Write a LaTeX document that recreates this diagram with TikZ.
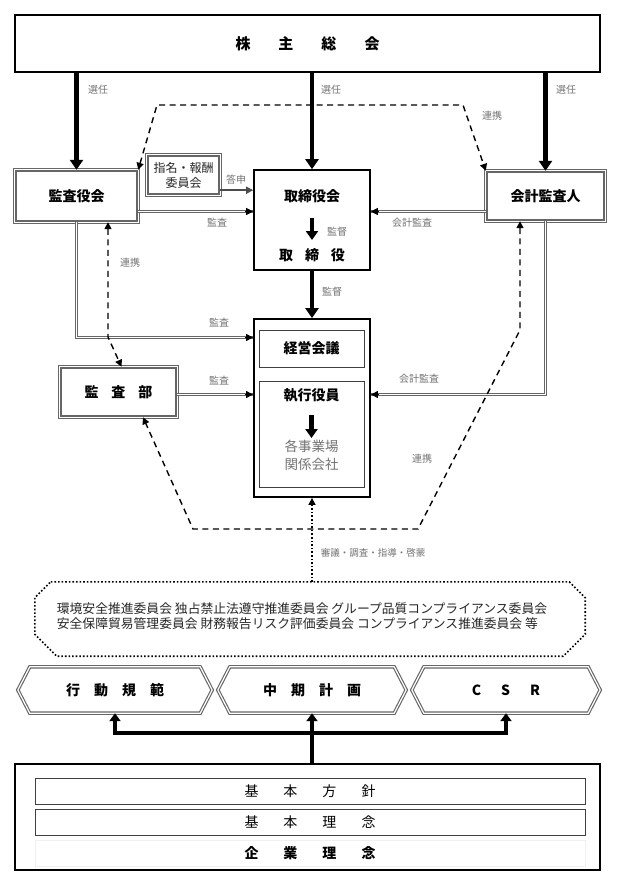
\documentclass[tikz,border=0pt]{standalone}
\usepackage{fontspec}
\setmainfont{Noto Sans CJK JP}
\usetikzlibrary{arrows.meta,calc}
\newcommand{\jfs}[1]{\fontsize{#1}{#1}\selectfont}
\begin{document}
\begin{tikzpicture}[x=1pt,y=-1pt,
  thickarr/.style={line width=4.8pt,-{Triangle[width=13pt,length=10pt]}},
  midarr/.style={line width=4pt,-{Triangle[width=11pt,length=8pt]}},
  innerarr/.style={line width=4.5pt,-{Triangle[width=12pt,length=9pt]}},
  dblline/.style={draw=black!60,double=white,line width=1.15pt,double distance=1.2pt},
  tipa/.style={draw=black,line width=1pt,-{Triangle[width=7pt,length=7pt]}},
  tosarr/.style={draw=black!70,line width=1.6pt,-{Triangle[width=7pt,length=7pt]}},
  txtbox/.style={fill=white,inner sep=0pt,align=center},
  boldtxt/.style={font=\jfs{14}\bfseries,inner sep=0pt},
  lab/.style={font=\jfs{10},text=black!55,inner sep=0pt},
  dashl/.style={line width=1.4pt,dash pattern=on 6pt off 4.5pt},
  dtips/.style={{Triangle[width=7pt,length=7pt]}-{Triangle[width=7pt,length=7pt]}},
  dotl/.style={line width=1.6pt,dash pattern=on 1.6pt off 2pt},
  plainbox/.style={draw=black!75,line width=0.8pt,inner sep=0pt}
]
\useasboundingbox (0,0) rectangle (632,886);
\fill[white] (0,0) rectangle (632,886);

% ---------- boxes ----------
\node[draw,line width=1.8pt,minimum width=585pt,minimum height=57pt,font=\jfs{15}\bfseries] (gm) at (307.5,43.5) {株\hspace{28pt}主\hspace{28pt}総\hspace{28pt}会};

\node[txtbox,minimum width=123pt,minimum height=52pt,boldtxt] (kansayaku) at (76.5,196) {監査役会};
\draw[dblline] (kansayaku.north west) rectangle (kansayaku.south east);
\node[txtbox,minimum width=73pt,minimum height=40pt,font=\fontsize{12}{15}\selectfont,text=black!85] (shimei) at (183.5,175) {指名・報酬\\委員会};
\draw[dblline] (shimei.north west) rectangle (shimei.south east);
\node[draw,line width=1.6pt,minimum width=116pt,minimum height=100pt] (torishimari) at (312,220) {};
\node[boldtxt] (tt1) at (312,196) {取締役会};
\node[boldtxt] (tt2) at (312,255) {取\hspace{12pt}締\hspace{12pt}役};
\coordinate (ta1) at (312,218);
\coordinate (ta2) at (312,240);
\node[txtbox,minimum width=119pt,minimum height=50pt,boldtxt] (kaikei) at (545.5,196) {会計監査人};
\draw[dblline] (kaikei.north west) rectangle (kaikei.south east);

\node[draw,line width=1.8pt,minimum width=116pt,minimum height=178pt] (keiei) at (312,408) {};
\node[plainbox,minimum width=105pt,minimum height=37pt,boldtxt] (kaigi) at (311.5,348.5) {経営会議};
\node[plainbox,minimum width=105pt,minimum height=106pt] (shikko) at (311.5,434) {};
\node[boldtxt] (sk1) at (311.5,395) {執行役員};
\node[font=\fontsize{13.5}{18}\selectfont,text=black!55,align=center,inner sep=0pt] (sk2) at (311.5,455) {各事業場\\関係会社};
\coordinate (sa1) at (311.5,415);
\coordinate (sa2) at (311.5,438);

\node[txtbox,minimum width=117pt,minimum height=50pt,boldtxt] (kansabu) at (118.5,392) {監\hspace{13pt}査\hspace{13pt}部};
\draw[dblline] (kansabu.north west) rectangle (kansabu.south east);

% committees (dotted octagon)
\node[minimum width=550pt,minimum height=74pt,inner sep=0pt] (iinkai) at (310,619) {};
\draw[dotl] ($(iinkai.north west)+(16,0)$) -- ($(iinkai.north east)+(-16,0)$) -- ($(iinkai.north east)+(0,16)$) -- ($(iinkai.south east)+(0,-22)$) -- ($(iinkai.south east)+(-22,0)$) -- ($(iinkai.south west)+(22,0)$) -- ($(iinkai.south west)+(0,-22)$) -- ($(iinkai.north west)+(0,16)$) -- cycle;
\node[font=\fontsize{12.8}{15.5}\selectfont,text=black!85,align=left,inner sep=0pt] (iinkaitxt) at (302,616) {環境安全推進委員会 独占禁止法遵守推進委員会 グループ品質コンプライアンス委員会\\安全保障貿易管理委員会 財務報告リスク評価委員会 コンプライアンス推進委員会 等};

% hexagons
\node[minimum width=194pt,minimum height=46pt,inner sep=0pt,font=\jfs{14}\bfseries] (hex1) at (115,690) {行\hspace{14pt}動\hspace{14pt}規\hspace{14pt}範};
\node[minimum width=188pt,minimum height=46pt,inner sep=0pt,font=\jfs{14}\bfseries] (hex2) at (312,690) {中\hspace{14pt}期\hspace{14pt}計\hspace{14pt}画};
\node[minimum width=188pt,minimum height=46pt,inner sep=0pt,font=\jfs{14}\bfseries] (hex3) at (506,690) {C\hspace{20pt}S\hspace{20pt}R};
\foreach \h in {hex1,hex2,hex3}{
  \draw[dblline] (\h.west) -- ($(\h.north west)+(12,0)$) -- ($(\h.north east)+(-12,0)$) -- (\h.east) -- ($(\h.south east)+(-12,0)$) -- ($(\h.south west)+(12,0)$) -- cycle;
}

% base
\node[draw,line width=2.2pt,minimum width=585pt,minimum height=106pt] (base) at (307.5,817) {};
\node[plainbox,minimum width=550pt,minimum height=26pt,font=\jfs{14}] (r1) at (310,791) {基\hspace{25pt}本\hspace{25pt}方\hspace{25pt}針};
\node[plainbox,minimum width=550pt,minimum height=26pt,font=\jfs{14}] (r2) at (310,822) {基\hspace{25pt}本\hspace{25pt}理\hspace{25pt}念};
\node[draw=black!6,line width=0.8pt,inner sep=0pt,minimum width=550pt,minimum height=26pt,font=\jfs{14}\bfseries] (r3) at (310,853) {企\hspace{25pt}業\hspace{25pt}理\hspace{25pt}念};

% ---------- connectors ----------
\coordinate (yA) at (0,211.5);
\coordinate (yB) at (0,337.5);
\coordinate (yC) at (0,394.5);

\draw[thickarr] (gm.south -| kansayaku.north) -- (kansayaku.north);
\draw[thickarr] (gm.south -| torishimari.north) -- (torishimari.north);
\draw[thickarr] (gm.south -| kaikei.north) -- (kaikei.north);
\node[lab] (sn1) at (98,90) {選任};
\node[lab] (sn2) at (331,90) {選任};
\node[lab] (sn3) at (566,90) {選任};

\draw[innerarr] (ta1) -- (ta2);
\node[lab] (kt1) at (337,232) {監督};
\draw[thickarr] (torishimari.south) -- (keiei.north);
\node[lab] (kt2) at (332,292) {監督};
\draw[innerarr] (sa1) -- (sa2);

\draw[tosarr] ($(shimei.south east)+(0,-5)$) coordinate (tsA) -- (tsA -| torishimari.west);
\node[lab] (ts) at (236,180) {答申};

\draw[dblline] (kansayaku.east |- yA) -- (torishimari.west |- yA);
\draw[tipa] ($(torishimari.west |- yA)+(-8,0)$) -- (torishimari.west |- yA);
\node[lab] (ks1) at (217,223) {監査};

\draw[dblline] (kaikei.west |- yA) -- (torishimari.east |- yA);
\draw[tipa] ($(torishimari.east |- yA)+(8,0)$) -- (torishimari.east |- yA);
\node[lab] (kk1) at (412,223) {会計監査};

\draw[dblline] (kansayaku.south) |- (keiei.west |- yB);
\draw[tipa] ($(keiei.west |- yB)+(-8,0)$) -- (keiei.west |- yB);
\node[lab] (ks2) at (219,323) {監査};

\draw[dblline] (kansabu.east |- yC) -- (keiei.west |- yC);
\draw[tipa] ($(keiei.west |- yC)+(-8,0)$) -- (keiei.west |- yC);
\node[lab] (ks3) at (219,381) {監査};

\draw[dblline] (kaikei.south) |- (keiei.east |- yC);
\draw[tipa] ($(keiei.east |- yC)+(8,0)$) -- (keiei.east |- yC);
\node[lab] (kk2) at (419,379) {会計監査};

% dashed 連携
\coordinate (d1) at (157,105);
\coordinate (d2) at (463,105);
\draw[dashl,dtips] (kansayaku.north east) -- (d1) -- (d2) -- (kaikei.north west);
\node[lab] (rk1) at (492,116) {連携};
\coordinate (d3) at (108,337);
\draw[dashl,dtips] (kansayaku.south -| d3) -- (d3) -- ($(kansabu.north)+(3,0)$);
\node[lab] (rk2) at (130,263) {連携};
\coordinate (d4) at (520,330);
\coordinate (d5) at (418,529);
\coordinate (d6) at (193,529);
\draw[dashl,dtips] (kaikei.south -| d4) -- (d4) -- (d5) -- (d6) -- ($(kansabu.south)+(24.5,0)$);
\node[lab] (rk3) at (422,459) {連携};

% dotted
\draw[dotl,-{Triangle[width=7pt,length=7pt]}] (iinkai.north -| keiei.south) -- (keiei.south);
\node[lab,font=\jfs{9.5}] (sg) at (373,553) {審議・調査・指導・啓蒙};

% bottom tree
\coordinate (hj) at (312,733);
\draw[line width=4pt,line cap=rect] (hex1.south |- hj) -- (hex3.south |- hj);
\draw[midarr] (base.north -| hex2.south) -- (hex2.south);
\draw[midarr] (hex1.south |- hj) -- (hex1.south);
\draw[midarr] (hex3.south |- hj) -- (hex3.south);
\end{tikzpicture}
\end{document}
